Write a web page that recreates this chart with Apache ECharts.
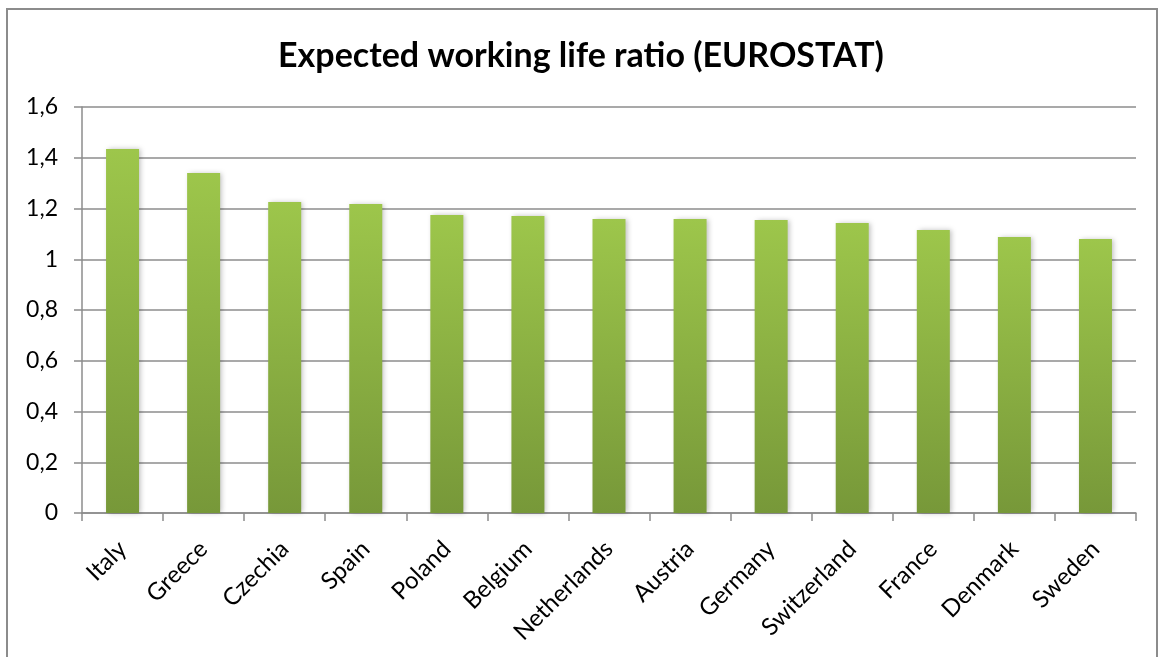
<!DOCTYPE html>
<html>
<head>
<meta charset="utf-8">
<script src="https://cdn.jsdelivr.net/npm/echarts@6/dist/echarts.min.js"></script>
<style>
  html, body { margin: 0; padding: 0; background: #fff; }
  #frame { position: absolute; left: 6px; top: 8px; width: 1152px; height: 660px; border: 2px solid #8c8c8c; box-sizing: border-box; }
  #chart { position: absolute; left: 0; top: 0; width: 1162px; height: 657px; }
</style>
</head>
<body>
<div id="frame"></div>
<div id="chart"></div>
<script>
const countries = ['Italy', 'Greece', 'Czechia', 'Spain', 'Poland', 'Belgium', 'Netherlands',
  'Austria', 'Germany', 'Switzerland', 'France', 'Denmark', 'Sweden'];
const ratio = [1.434, 1.340, 1.226, 1.218, 1.174, 1.170, 1.159, 1.159, 1.155, 1.143, 1.115, 1.088, 1.080];

const chart = echarts.init(document.getElementById('chart'));
const fontFam = 'Lato, "Open Sans", sans-serif';

const option = {
  animation: false,
  title: {
    text: 'Expected working life ratio (EUROSTAT)',
    left: 'center',
    top: 34,
    textStyle: { fontFamily: fontFam, fontWeight: 'bold', fontSize: 34, color: '#000' }
  },
  grid: { left: 82, right: 26, top: 107, bottom: 144 },
  xAxis: {
    type: 'category',
    data: countries,
    axisLine: { lineStyle: { color: '#8c8c8c', width: 1.5 } },
    axisTick: { show: true, length: 8, lineStyle: { color: '#8c8c8c', width: 1.5 } },
    axisLabel: {
      rotate: 45, margin: 32, interval: 0,
      fontFamily: fontFam, fontSize: 24, color: '#000'
    }
  },
  yAxis: {
    type: 'value',
    min: 0, max: 1.6, interval: 0.2,
    axisLine: { show: true, lineStyle: { color: '#8c8c8c', width: 1.5 } },
    axisTick: { show: true, length: 8, lineStyle: { color: '#8c8c8c', width: 1.5 } },
    splitLine: { lineStyle: { color: '#8c8c8c', width: 1.5 } },
    axisLabel: {
      margin: 24, fontFamily: fontFam, fontSize: 23, color: '#000',
      formatter: v => String(+v.toFixed(1)).replace('.', ',')
    }
  },
  series: [{
    type: 'bar',
    data: ratio,
    barWidth: 33,
    itemStyle: {
      color: new echarts.graphic.LinearGradient(0, 0, 0, 1, [
        { offset: 0, color: '#9dc64b' },
        { offset: 1, color: '#779839' }
      ]),
      shadowColor: 'rgba(0,0,0,0.25)',
      shadowBlur: 5,
      shadowOffsetX: 2
    }
  }]
};

chart.setOption(option);
</script>
</body>
</html>
